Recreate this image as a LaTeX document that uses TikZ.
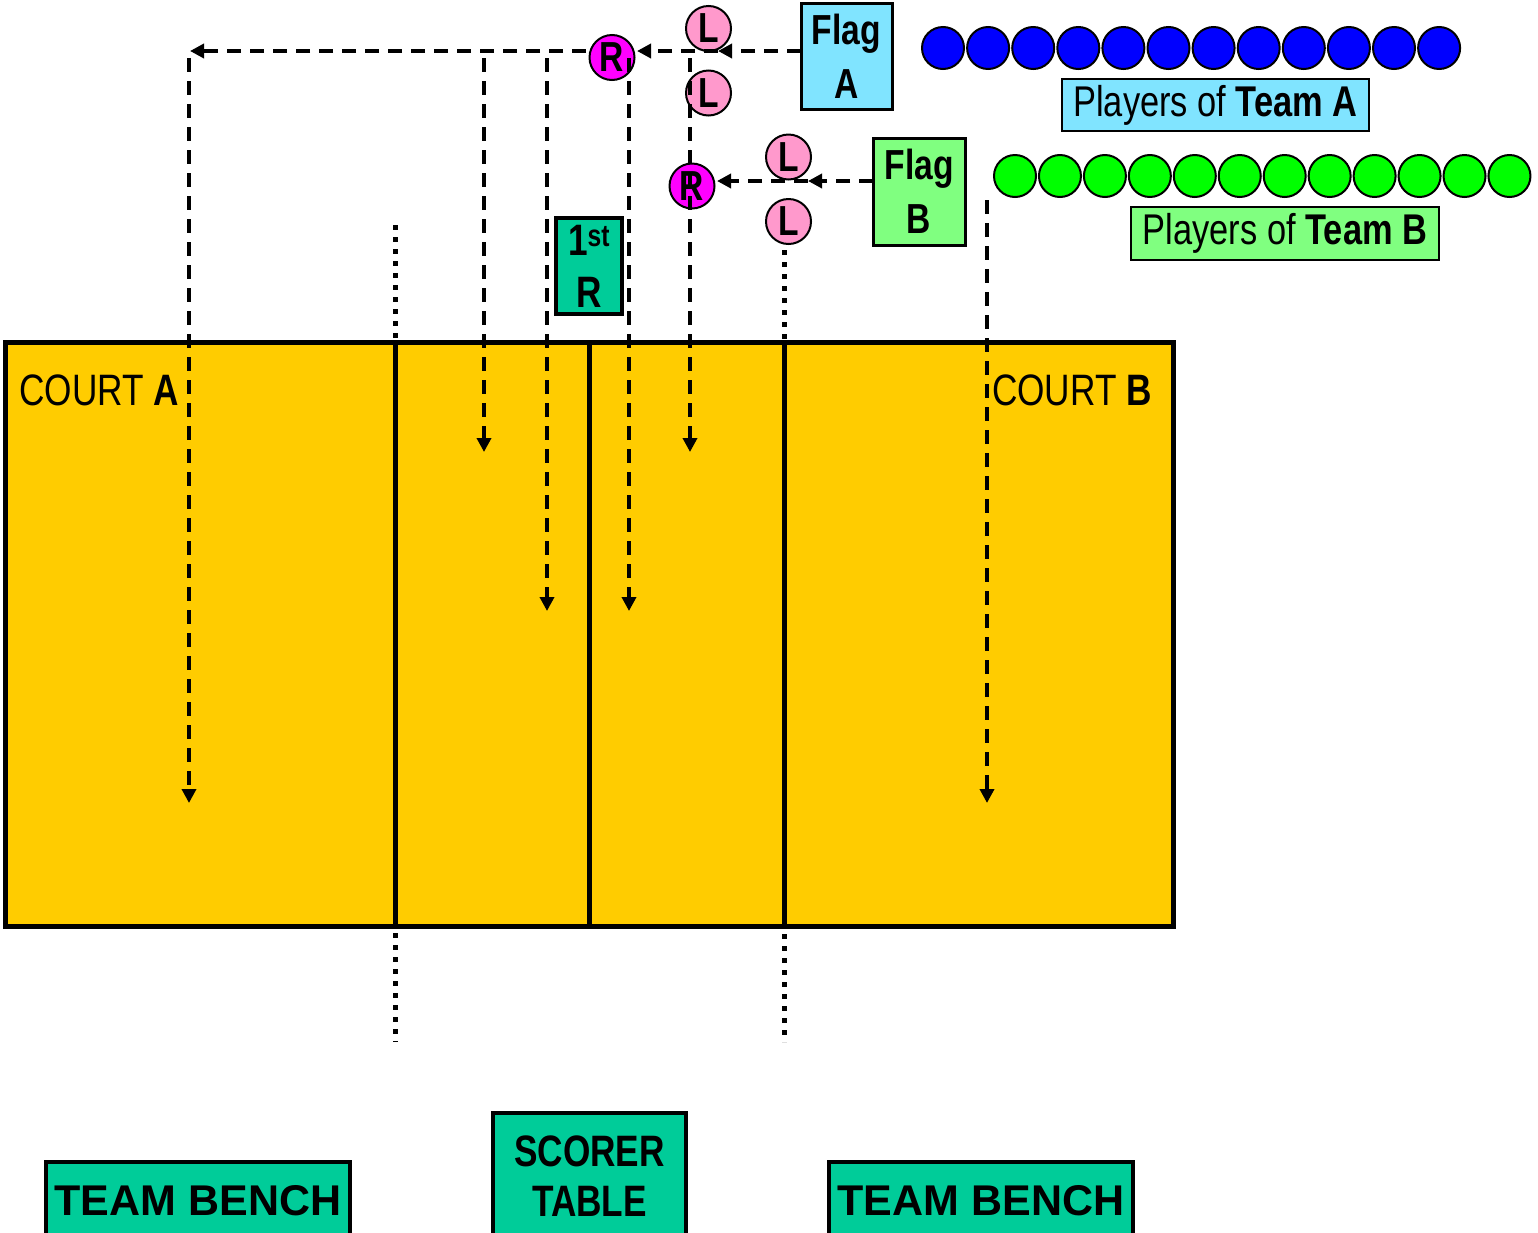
\documentclass[tikz,border=0pt]{standalone}
\usepackage{fontspec}
\setmainfont{Liberation Sans}
\newfontfamily\nf[FakeStretch=0.8]{Liberation Sans}
\usetikzlibrary{arrows.meta}
\definecolor{courtY}{HTML}{FFCC00}
\definecolor{cyanL}{HTML}{80E4FF}
\definecolor{greenL}{HTML}{80FF80}
\definecolor{teal}{HTML}{00CC99}
\definecolor{pinkL}{HTML}{FF99CC}
\definecolor{magR}{HTML}{FF00FF}
\definecolor{blueP}{HTML}{0000FF}
\definecolor{greenP}{HTML}{00FF00}
\begin{document}
\begin{tikzpicture}[x=1pt,y=-1pt,
  dl/.style={line width=3.5pt,dash pattern=on 14pt off 9pt},
  tipd/.style={-{Triangle[length=14pt,width=14pt]}},
  dotl/.style={line width=5pt,dash pattern=on 5pt off 7pt},
  cline/.style={line width=5pt},
  lbox/.style={draw,line width=3pt,inner sep=0pt,align=center},
  pcirc/.style={circle,draw,line width=2pt,minimum size=42pt,inner sep=0pt},
  refc/.style={circle,draw,line width=2pt,minimum size=45pt,inner sep=0pt,
     font=\nf\bfseries\fontsize{42}{42}\selectfont},
  bigtxt/.style={font=\nf\bfseries\fontsize{42}{54}\selectfont},
]
\clip (0,0) rectangle (1538,1232);
\fill[white] (0,0) rectangle (1538,1232);
% dotted extensions
\coordinate (d1t) at (395,225); \coordinate (d1b) at (395,1042);
\coordinate (d2t) at (784.5,250); \coordinate (d2b) at (784.5,1042);
\draw[dotl] (d1t) -- (d1b);
\draw[dotl] (d2t) -- (d2b);
% court
\draw[cline,fill=courtY] (5,342) rectangle (1173,926);
\coordinate (v1t) at (395,342); \coordinate (v1b) at (395,926);
\coordinate (v2t) at (589.5,342); \coordinate (v2b) at (589.5,926);
\coordinate (v3t) at (784.5,342); \coordinate (v3b) at (784.5,926);
\draw[cline] (v1t) -- (v1b);
\draw[cline] (v2t) -- (v2b);
\draw[cline] (v3t) -- (v3b);
\node[anchor=base west,inner sep=0pt,font=\nf\fontsize{44}{50}\selectfont] (courtA) at (19,405) {COURT \textbf{A}};
\node[anchor=base east,inner sep=0pt,font=\nf\fontsize{44}{50}\selectfont] (courtB) at (1152,405) {COURT \textbf{B}};
% boxes
\node[lbox,fill=cyanL,minimum width=91pt,minimum height=106pt,bigtxt] (flagA) at (846.5,56) {Flag\\A};
\node[lbox,fill=greenL,minimum width=92pt,minimum height=107pt,bigtxt] (flagB) at (919,191.5) {Flag\\B};
\node[lbox,line width=4pt,fill=teal,minimum width=66pt,minimum height=96pt,font=\nf\bfseries\fontsize{44}{52}\selectfont] (first) at (589,266) {1\textsuperscript{st}\\R};
\node[lbox,line width=2pt,fill=cyanL,minimum width=307pt,minimum height=52pt,font=\nf\fontsize{43}{44}\selectfont] (plA) at (1215.5,105) {Players of \textbf{Team A}};
\node[lbox,line width=2pt,fill=greenL,minimum width=308pt,minimum height=53pt,font=\nf\fontsize{43}{44}\selectfont] (plB) at (1285,233.5) {Players of \textbf{Team B}};
\node[lbox,line width=4pt,fill=teal,minimum width=304pt,minimum height=78pt,font=\bfseries\fontsize{43}{50}\selectfont] (benchA) at (198,1201) {TEAM BENCH};
\node[lbox,line width=4pt,fill=teal,minimum width=304pt,minimum height=78pt,font=\bfseries\fontsize{43}{50}\selectfont] (benchB) at (981,1201) {TEAM BENCH};
\node[lbox,line width=4pt,fill=teal,minimum width=193pt,minimum height=127pt,font=\nf\bfseries\fontsize{44}{50}\selectfont] (scorer) at (589.5,1176.5) {SCORER\\TABLE};
% players
\foreach \i in {0,...,11} \node[pcirc,fill=blueP] (pa\i) at ({943+45.1*\i},48) {};
\foreach \i in {0,...,11} \node[pcirc,fill=greenP] (pb\i) at ({1015+44.95*\i},176) {};
% referees / line judges
\node[refc,fill=pinkL] (LA1) at (708.5,28.5) {L};
\node[refc,fill=pinkL] (LA2) at (708.5,93) {L};
\node[refc,fill=magR] (RA) at (612,57.5) {R};
\node[refc,fill=pinkL] (LB1) at (788.5,157) {L};
\node[refc,fill=pinkL] (LB2) at (788.5,221.5) {L};
\node[refc,fill=magR] (RB) at (692,186) {R};
% team A path
\coordinate (a0) at (801,51);
\coordinate (a1) at (718,51);
\coordinate (a2) at (637,51);
\coordinate (a2b) at (586,51);
\coordinate (a3) at (190,51);
\draw[dl,tipd] (a0) -- (a1);
\draw[dl,tipd] (a1) -- (a2);
\draw[dl,tipd] (a2b) -- (a3);
% team B path
\coordinate (b0) at (873,181);
\coordinate (b1) at (808,181);
\coordinate (b2) at (717,181);
\draw[dl,tipd] (b0) -- (b1);
\draw[dl,tipd] (b1) -- (b2);
% vertical paths
\coordinate (s1) at (189,58); \coordinate (e1) at (189,803);
\coordinate (s2) at (484,58); \coordinate (e2) at (484,452);
\coordinate (s3) at (547,58); \coordinate (e3) at (547,611);
\coordinate (s4) at (629,58); \coordinate (e4) at (629,611);
\coordinate (s5) at (690,58); \coordinate (e5) at (690,452);
\coordinate (s6) at (987,200); \coordinate (e6) at (987,803);
\draw[dl,tipd] (s1) -- (e1);
\draw[dl,tipd] (s2) -- (e2);
\draw[dl,tipd] (s3) -- (e3);
\draw[dl,tipd] (s4) -- (e4);
\draw[dl,tipd] (s5) -- (e5);
\draw[dl,tipd] (s6) -- (e6);
\end{tikzpicture}
\end{document}
